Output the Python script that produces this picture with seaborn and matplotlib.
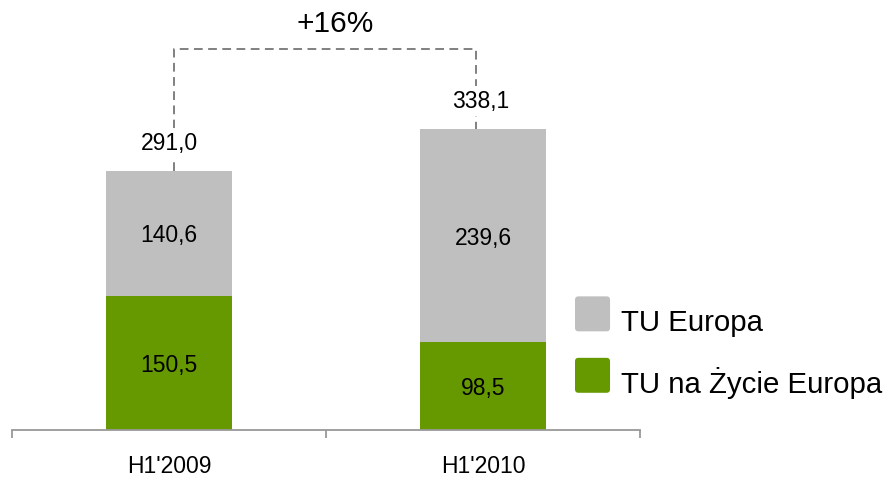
import matplotlib
matplotlib.use("Agg")
import matplotlib.pyplot as plt
import matplotlib.patches as mpatches
from matplotlib.legend_handler import HandlerPatch
import seaborn as sns

categories = ["H1'2009", "H1'2010"]
tu_europa = [140.6, 239.6]
tu_zycie = [150.5, 98.5]
totals = [291.0, 338.1]
growth_label = "+16%"
series_names = ["TU Europa", "TU na Życie Europa"]

GRAY = "#BFBFBF"
GREEN = "#669900"

sns.set_theme(style="white")
plt.rcParams["font.family"] = ["Liberation Sans", "DejaVu Sans"]
plt.rcParams["text.color"] = "black"

fig = plt.figure(figsize=(8.86, 4.79), dpi=100)
W, H = 886, 479
ax_left, ax_right, ax_base = 12, 640, 429.5
ax = fig.add_axes([ax_left / W, (H - ax_base) / H, (ax_right - ax_left) / W, ax_base / H])

sns.barplot(x=categories, y=totals, color=GRAY, width=0.4, saturation=1,
            linewidth=0, ax=ax)
sns.barplot(x=categories, y=tu_zycie, color=GREEN, width=0.4, saturation=1,
            linewidth=0, ax=ax)

px_per_unit = 258.5 / 291.0
ax.set_ylim(0, ax_base / px_per_unit)
ax.set_xlim(-0.5, 1.5)

fmt = lambda v: f"{v:.1f}".replace(".", ",")

# inner labels
for i in range(len(categories)):
    ax.text(i, tu_zycie[i] / 2, fmt(tu_zycie[i]), ha="center", va="center_baseline",
            fontsize=16.5, color="black")
    ax.text(i, tu_zycie[i] + tu_europa[i] / 2, fmt(tu_europa[i]), ha="center",
            va="center_baseline", fontsize=16.5, color="black")

# bracket
level = (ax_base - 49) / px_per_unit
bx = [0.015, 0.977]
xs = [bx[0], bx[0], bx[1], bx[1]]
ys = [totals[0], level, level, totals[1]]
ax.plot(xs, ys, color="#808080", lw=1.4, ls=(0, (4.5, 2.8)), zorder=1, clip_on=False)

for i in range(len(categories)):
    ax.annotate(fmt(totals[i]), xy=(i, totals[i]), xytext=(-2 if i else 0, 20),
                textcoords="offset points", ha="center", va="center",
                fontsize=16.5, color="black", zorder=3,
                bbox=dict(boxstyle="square,pad=0.15", fc="white", ec="none"))

ax.text(0.53, (ax_base - 24) / px_per_unit, growth_label, ha="center",
        va="center", fontsize=21.5, color="black", clip_on=False)

# axes styling
for s in ["top", "right", "left"]:
    ax.spines[s].set_visible(False)
ax.spines["bottom"].set_color("#999999")
ax.spines["bottom"].set_linewidth(1.3)
ax.set_yticks([])
ax.set_ylabel("")
ax.set_xticks(range(len(categories)))
ax.set_xticklabels(categories, fontsize=16.5, color="black")
ax.tick_params(axis="x", which="major", length=0, pad=18.5)
ax.set_xticks([-0.5, 0.5, 1.5], minor=True)
ax.tick_params(axis="x", which="minor", length=5.5, width=1.3, color="#999999",
               direction="out", bottom=True)


def rounded_square(legend, orig_handle, xdescent, ydescent, width, height, fontsize):
    return mpatches.FancyBboxPatch((-xdescent, -ydescent + 5.5), width, height,
                                   boxstyle="round,pad=0,rounding_size=2.5")


handles = [mpatches.Patch(facecolor=GRAY, edgecolor="none"),
           mpatches.Patch(facecolor=GREEN, edgecolor="none")]
ax.legend(handles, series_names, loc="upper left",
          bbox_to_anchor=(575 / W, 1 - 304 / H), bbox_transform=fig.transFigure,
          frameon=False, fontsize=21.2, handlelength=1.19, handleheight=1.45,
          handletextpad=0.38, labelspacing=0.9, borderpad=0, borderaxespad=0,
          handler_map={mpatches.Patch: HandlerPatch(patch_func=rounded_square)})

fig.savefig("out.png", dpi=100)
